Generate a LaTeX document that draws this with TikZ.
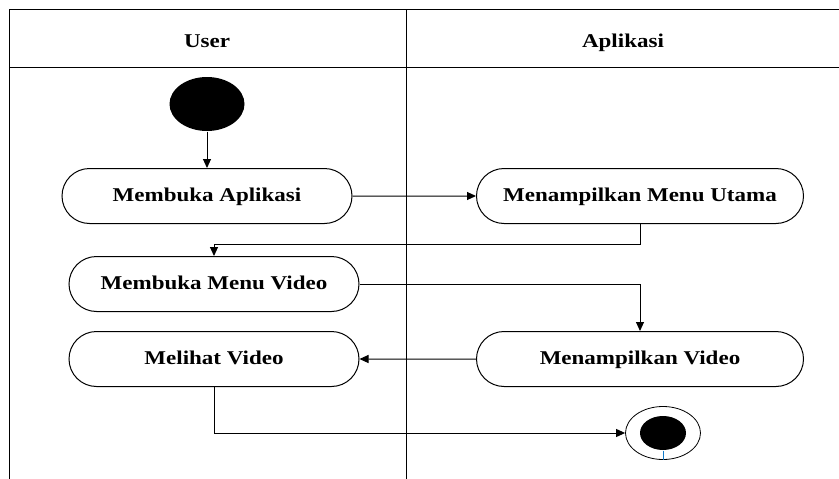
\documentclass[tikz,border=0pt]{standalone}
\usepackage{fontspec}
\setmainfont{Liberation Serif}[FakeStretch=1.18]
\usetikzlibrary{arrows.meta,shapes.misc,shapes.geometric}

\begin{document}
\begin{tikzpicture}[x=1pt,y=-1pt,>={Triangle[length=9pt,width=8pt]},line width=1pt,
    act/.style={rounded rectangle,draw,minimum height=55pt,inner xsep=4pt,
      text height=13pt,text depth=2pt,font=\fontsize{19.5}{22}\selectfont\bfseries},
    lane/.style={text height=13pt,text depth=2pt,font=\fontsize{19.5}{22}\selectfont\bfseries}]
  \useasboundingbox (0,0) rectangle (839,479);

  % swimlanes
  \draw (839,9) -- (9,9) -- (9,479);
  \draw (9,67) -- (839,67);
  \draw (406,9) -- (406,479);
  \node[lane] (user) at (207,42) {User};
  \node[lane] (app)  at (623,42) {Aplikasi};

  % activities
  \node[ellipse,fill,minimum width=75pt,minimum height=54pt,inner sep=0pt] (start) at (207,104) {};
  \node[act,minimum width=298pt] (buka)   at (207,196) {Membuka Aplikasi};
  \node[act,minimum width=335pt] (menu)   at (640,196) {Menampilkan Menu Utama};
  \node[act,minimum width=298pt] (video)  at (214,284) {Membuka Menu Video};
  \node[act,minimum width=335pt] (tampil) at (640,359) {Menampilkan Video};
  \node[act,minimum width=298pt] (lihat)  at (214,359) {Melihat Video};
  \node[draw,ellipse,minimum width=75pt,minimum height=53pt,inner sep=0pt,line width=0.8pt] (end) at (663,433) {};
  \node[ellipse,fill,minimum width=46pt,minimum height=34pt,inner sep=0pt] (dot) at (end.center) {};
  \draw[cyan!60!blue,line width=0.6pt] (dot.south) -- (end.south);

  \draw[->] (start) -- (buka);
  \draw[->] (buka) -- (menu);
  \draw[->] (menu.south) |- (214,244) -- (video.north);
  \draw[->] (video.east) -| (tampil.north);
  \draw[->] (tampil) -- (lihat);
  \draw[->] (lihat.south) |- (end.west);
\end{tikzpicture}
\end{document}
